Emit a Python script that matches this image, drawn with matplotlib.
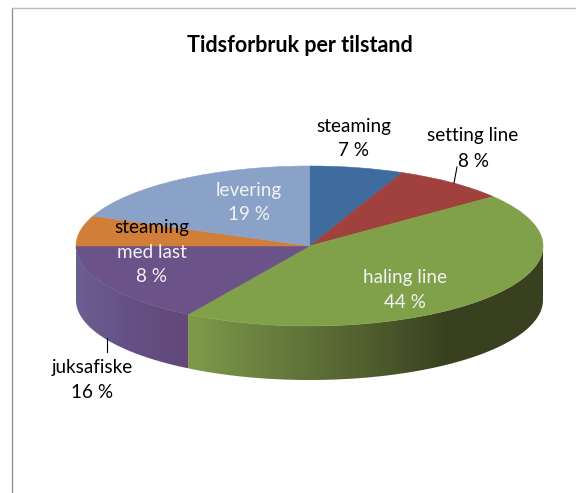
"""Tidsforbruk per tilstand: 3D-looking pie, top face from ax.pie, side wall from clipped gradients."""

import matplotlib
matplotlib.use("Agg")
import matplotlib.pyplot as plt
import numpy as np
from matplotlib.colors import LinearSegmentedColormap
from matplotlib.patches import Polygon

W, H = 576, 493
CX, CY = 309.5, 246    # pie centre in pixels
RX, RY = 233.5, 80     # ellipse radii in pixels
DEPTH = 54 / RY        # wall height in data units

categories = ["steaming", "setting line", "haling line", "juksafiske", "steaming med last", "levering"]
shares = [6.5, 7.9, 44.3, 16.3, 6.1, 18.9]   # slice sizes as drawn in the picture
colors = ["#3F6C9F", "#A0413E", "#81A04A", "#6B5288", "#D17F38", "#8AA2C8"]

plt.rcParams["font.family"] = ["Lato", "DejaVu Sans"]

fig = plt.figure(figsize=(W / 100, H / 100), dpi=100)
ax = fig.add_axes([0, 0, 1, 1])

wedges, _ = ax.pie(shares, colors=colors, startangle=90, counterclock=False, radius=1)
for w, c in zip(wedges, colors):
    w.set_edgecolor(c)
    w.set_linewidth(0.4)
    w.set_zorder(3)

# ── side wall ─────────────────────────────────────────────────────────────────
# both ramps run left to right across the wall
green_wall = LinearSegmentedColormap.from_list(
    "g", [(0.0, "#7F9B49"), (0.2, "#6B8240"), (0.5, "#515F2F"), (0.72, "#3A4120"), (1.0, "#394020")])
purple_wall = LinearSegmentedColormap.from_list("p", ["#6B5F92", "#654F84", "#63497A"])

edges = np.cumsum([0] + shares) / sum(shares) * 360.0   # clockwise from 12 o'clock


def wall(start, stop, cmap):
    a = np.radians(np.linspace(start, stop, 200))
    xs = np.sin(a)
    ys = np.cos(a)
    px = np.r_[xs, xs[::-1]]
    py = np.r_[ys, ys[::-1] - DEPTH]
    x0, x1 = xs.min(), xs.max()
    grad = np.linspace(0, 1, 256).reshape(1, -1)
    im = ax.imshow(grad, cmap=cmap, extent=(x0, x1, py.min(), py.max()), aspect="auto", zorder=1)
    im.set_clip_path(Polygon(np.c_[px, py], transform=ax.transData))


wall(90, edges[3], green_wall)
wall(edges[3], 270, purple_wall)

ax.set_aspect("auto")
ax.set_xlim(-CX / RX, (W - CX) / RX)
ax.set_ylim((CY - H) / RY, CY / RY)
ax.set_axis_off()

# ── frame ─────────────────────────────────────────────────────────────────────
fig.add_artist(plt.Line2D([12 / W, 12 / W], [0, 1 - 7.5 / H], color="#8C8C8C", linewidth=0.9))
fig.add_artist(plt.Line2D([12 / W, 1], [1 - 7.5 / H, 1 - 7.5 / H], color="#BDBDBD", linewidth=1.0))


# ── text ──────────────────────────────────────────────────────────────────────
def label(x, y, s, color="black", **kw):
    fig.text(x / W, 1 - y / H, s, color=color, ha="center", va="center", fontsize=kw.pop("fontsize", 13.6), **kw)


label(299.5, 45, "Tidsforbruk per tilstand", fontsize=15.5, fontweight="bold")
label(354, 126, "steaming")
label(354, 150, "7 %")
label(473, 136, "setting line")
label(473, 161, "8 %")
label(249, 190, "levering", color="#F2F2F2")
label(249, 215, "19 %", color="#F2F2F2")
label(152, 227, "steaming")
label(152, 252, "med last", color="#F2F2F2")
label(152, 277, "8 %", color="#F2F2F2")
label(405, 277, "haling line", color="#F2F2F2")
label(405, 302, "44 %", color="#F2F2F2")
label(92, 367, "juksafiske")
label(92, 392, "16 %")

# leader lines
fig.add_artist(plt.Line2D([107 / W, 107 / W], [1 - 338 / H, 1 - 352 / H], color="black", linewidth=0.8))
fig.add_artist(plt.Line2D([454 / W, 457 / W], [1 - 183 / H, 1 - 167 / H], color="black", linewidth=0.8))

fig.savefig("out.png", dpi=100)
